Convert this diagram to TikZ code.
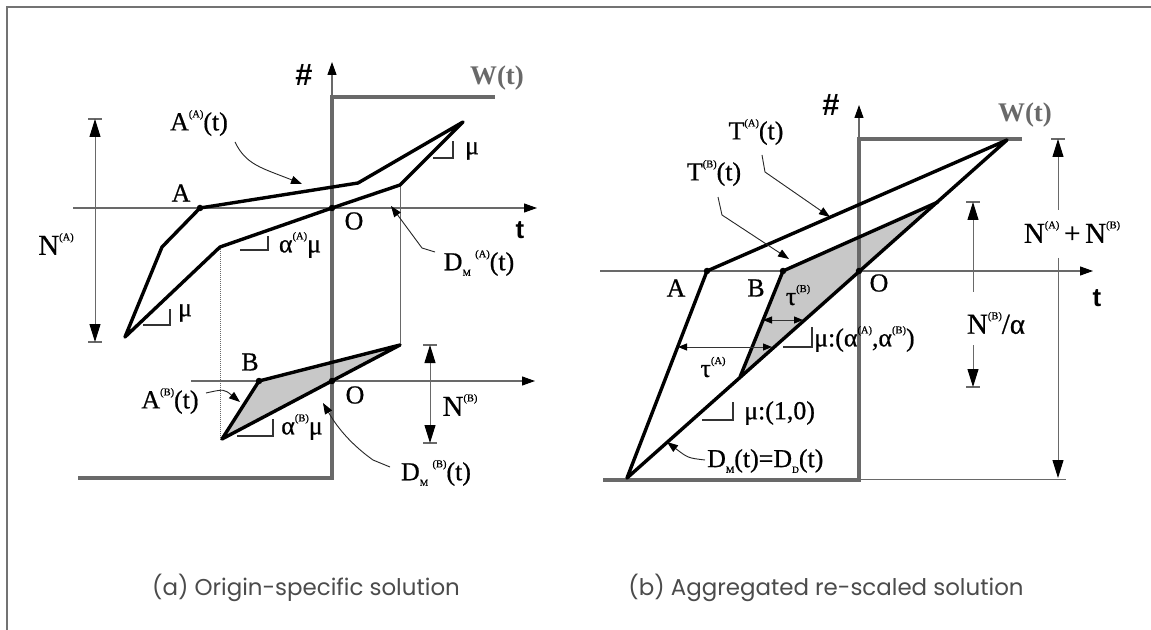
\documentclass[tikz,border=0pt]{standalone}
\usepackage{fontspec}
\setmainfont{Liberation Serif}
\newfontfamily\lblfont{Liberation Serif}[FakeBold=0.7]
\newfontfamily\capfont{Poppins}
\newfontfamily\axfont{Liberation Sans}
\usetikzlibrary{arrows.meta}
\definecolor{wgray}{RGB}{105,105,105}
\definecolor{axgray}{RGB}{105,105,105}
\definecolor{fillgray}{RGB}{200,200,200}
\definecolor{capgray}{RGB}{75,75,75}
\newcommand\supx[1]{\raisebox{0.5em}{\fontsize{10.5}{10.5}\selectfont(#1)}}
\newcommand\subx[1]{\raisebox{-0.22em}{\fontsize{9.5}{9.5}\selectfont #1}}
\tikzset{
  curve/.style={line width=3.4bp, line join=round, black},
  wline/.style={line width=3.5bp, wgray, line join=miter},
  axisline/.style={line width=1.1bp, axgray, -{Triangle[length=13bp,width=9bp,color=black]}},
  dimline/.style={line width=1bp, axgray},
  dimarrow/.style={line width=1bp, axgray, -{Triangle[length=18bp,width=11bp,color=black]}},
  dimbar/.style={line width=1.2bp, axgray},
  leader/.style={line width=0.9bp, black!85, -{Triangle[length=11bp,width=8bp,color=black]}},
  tauarr/.style={line width=1bp, black!80, {Triangle[length=9bp,width=7bp,color=black]}-{Triangle[length=9bp,width=7bp,color=black]}},
  slope/.style={line width=1.4bp, black!80},
  lbl/.style={font=\lblfont\fontsize{26}{26}\selectfont, inner sep=0pt},
  nlbl/.style={font=\lblfont\fontsize{29}{29}\selectfont, inner sep=0pt},
  axlbl/.style={font=\axfont\bfseries\fontsize{26}{26}\selectfont, inner sep=0pt},
  hashlbl/.style={font=\axfont\bfseries\fontsize{31}{31}\selectfont, inner sep=0pt},
  wlbl/.style={font=\bfseries\fontsize{27}{27}\selectfont, text=wgray, inner sep=0pt},
  caplbl/.style={font=\capfont\fontsize{23}{23}\selectfont, text=capgray, inner sep=0pt},
  dotm/.style={circle, fill=black, inner sep=0pt, minimum size=6.5bp},
  framel/.style={line width=2bp, black!55}
}
\begin{document}
\begin{tikzpicture}[x=1bp,y=-1bp]
\useasboundingbox (0,0) rectangle (1151,630);
\fill[white] (0,0) rectangle (1151,630);
% frame
\coordinate (f1) at (7,630);
\coordinate (f2) at (7,7);
\coordinate (f3) at (1151,7);
\draw[framel] (f1) -- (f2) -- (f3);

%%%%%%%%%%%%%%%% LEFT PANEL
\coordinate (LyB) at (332,478);
\coordinate (LyT) at (332,62);
\coordinate (Lx1a) at (73,208);
\coordinate (Lx1b) at (537,208);
\coordinate (Lx2a) at (191,381);
\coordinate (Lx2b) at (535,381);
\coordinate (La) at (200,208);
\coordinate (Lo) at (332,208);
\coordinate (Lp1) at (125,337);
\coordinate (Lp2) at (162,247);
\coordinate (Lp3) at (358,183);
\coordinate (Lp4) at (463,122);
\coordinate (Lp5) at (400,185);
\coordinate (Lp6) at (220,247);
\coordinate (Lq1) at (222,439);
\coordinate (Lb) at (259,381);
\coordinate (Lq2) at (400,345);
\coordinate (Lo2) at (332,381);
\coordinate (Lw1) at (78,478);
\coordinate (Lw2) at (332,478);
\coordinate (Lw3) at (332,97);
\coordinate (Lw4) at (495,97);
\coordinate (Lv1) at (400,185);
\coordinate (Lv2) at (400,345);
\coordinate (Ld1) at (220,247);
\coordinate (Ld2) at (220,439);

\draw[axisline] (Lx1a) -- (Lx1b);
\draw[axisline] (Lx2a) -- (Lx2b);
\draw[axisline] (LyB) -- (LyT);
\draw[dimline] (Lv1) -- (Lv2);
\draw[dimline, densely dotted] (Ld1) -- (Ld2);
\fill[fillgray] (Lq1) -- (Lb) -- (Lq2) -- cycle;
\draw[wline] (Lw1) -- (Lw2) -- (Lw3) -- (Lw4);
\draw[curve] (Lp1) -- (Lp2) -- (La) -- (Lp3) -- (Lp4) -- (Lp5) -- (Lo) -- (Lp6) -- cycle;
\draw[curve] (Lq1) -- (Lb) -- (Lq2) -- cycle;
\node[dotm] (dLa) at (La) {};
\node[dotm] (dLo) at (Lo) {};
\node[dotm] (dLb) at (Lb) {};
\node[dotm] (dLo2) at (Lo2) {};

% slope marks
\coordinate (s1a) at (433,158); \coordinate (s1b) at (453,158); \coordinate (s1c) at (453,141);
\draw[slope] (s1a) -- (s1b) -- (s1c);
\coordinate (s2a) at (240,250); \coordinate (s2b) at (268,250); \coordinate (s2c) at (268,236);
\draw[slope] (s2a) -- (s2b) -- (s2c);
\coordinate (s3a) at (143,325); \coordinate (s3b) at (170,325); \coordinate (s3c) at (170,309);
\draw[slope] (s3a) -- (s3b) -- (s3c);
\coordinate (s4a) at (237,436); \coordinate (s4b) at (273,436); \coordinate (s4c) at (273,419);
\draw[slope] (s4a) -- (s4b) -- (s4c);

% N(A) dimension
\coordinate (nA1) at (95,119); \coordinate (nA2) at (95,342); \coordinate (nAm) at (95,230);
\coordinate (nA1l) at (88,119); \coordinate (nA1r) at (102,119);
\coordinate (nA2l) at (88,342); \coordinate (nA2r) at (102,342);
\draw[dimbar] (nA1l) -- (nA1r);
\draw[dimbar] (nA2l) -- (nA2r);
\draw[dimarrow] (nAm) -- (nA1);
\draw[dimarrow] (nAm) -- (nA2);
% N(B) dimension
\coordinate (nB1) at (430,345); \coordinate (nB2) at (430,443); \coordinate (nBm) at (430,394);
\coordinate (nB1l) at (423,345); \coordinate (nB1r) at (437,345);
\coordinate (nB2l) at (423,443); \coordinate (nB2r) at (437,443);
\draw[dimbar] (nB1l) -- (nB1r);
\draw[dimbar] (nB2l) -- (nB2r);
\draw[dimarrow] (nBm) -- (nB1);
\draw[dimarrow] (nBm) -- (nB2);

% labels left
\node[hashlbl] (Lhash) at (304,75) {\#};
\node[wlbl] (LW) at (497,78) {W(t)};
\node[lbl] (LAA) at (199,123) {A\supx{A}(t)};
\node[lbl] (LAlab) at (181,193) {A};
\node[lbl] (LOlab) at (354,221) {O};
\node[axlbl] (Lt) at (520,230) {t};
\node[lbl] (LDMA) at (479,263) {D\subx{M}\,\supx{A}(t)};
\node[lbl] (Lmu1) at (472,151) {μ};
\node[lbl] (LaAmu) at (300,245) {α\supx{A}μ};
\node[lbl] (Lmu2) at (185,313) {μ};
\node[nlbl] (LNA) at (56,244) {N\supx{A}};
\node[lbl] (LBlab) at (250,362) {B};
\node[lbl] (LAB) at (170,401) {A\supx{B}(t)};
\node[lbl] (LO2lab) at (355,395) {O};
\node[lbl] (LaBmu) at (302,427) {α\supx{B}μ};
\node[nlbl] (LNB) at (460,405) {N\supx{B}};
\node[lbl] (LDMB) at (436,473) {D\subx{M}\,\supx{B}(t)};

% leaders left
\coordinate (l1a) at (235,142); \coordinate (l1b) at (302,184);
\draw[leader] (l1a) .. controls (246,165) and (262,168) .. (l1b);
\coordinate (l2a) at (435,252); \coordinate (l2b) at (422,248); \coordinate (l2c) at (391,206);
\draw[leader] (l2a) -- (l2b) -- (l2c);
\coordinate (l3a) at (206,393); \coordinate (l3b) at (240,402);
\draw[leader] (l3a) .. controls (224,389) .. (l3b);
\coordinate (l4a) at (390,467); \coordinate (l4b) at (373,460); \coordinate (l4c) at (323,403);
\draw[leader] (l4a) -- (l4b) .. controls (345,440) and (333,420) .. (l4c);

%%%%%%%%%%%%%%%% RIGHT PANEL
\coordinate (RyB) at (859,480);
\coordinate (RyT) at (859,105);
\coordinate (Rxa) at (600,271);
\coordinate (Rxb) at (1093,271);
\coordinate (Ra) at (707,271);
\coordinate (Rb) at (783,271);
\coordinate (Ro) at (859,271);
\coordinate (Rtop) at (1007,140);
\coordinate (Rbot) at (627,478);
\coordinate (Rq) at (938,202);
\coordinate (Rr) at (740,377);
\coordinate (Rw1) at (603,480);
\coordinate (Rw2) at (859,480);
\coordinate (Rw3) at (859,139);
\coordinate (Rw4) at (1022,139);
\coordinate (Rh1) at (859,479);
\coordinate (Rh2) at (1066,479);

\draw[axisline] (Rxa) -- (Rxb);
\draw[axisline] (RyB) -- (RyT);
\draw[dimline] (Rh1) -- (Rh2);
\fill[fillgray] (Rb) -- (Rq) -- (Rr) -- cycle;
\draw[wline] (Rw1) -- (Rw2) -- (Rw3) -- (Rw4);
\draw[curve] (Rbot) -- (Ra) -- (Rtop) -- cycle;
\draw[curve] (Rr) -- (Rb) -- (Rq);
\node[dotm] (dRa) at (Ra) {};
\node[dotm] (dRb) at (Rb) {};
\node[dotm] (dRo) at (Ro) {};

% tau arrows
\coordinate (tb1) at (763,320); \coordinate (tb2) at (803,320);
\draw[tauarr] (tb1) -- (tb2);
\coordinate (ta1) at (678,347); \coordinate (ta2) at (772,347);
\draw[tauarr] (ta1) -- (ta2);

% slope marks right
\coordinate (r1a) at (783,347); \coordinate (r1b) at (812,347); \coordinate (r1c) at (812,327);
\draw[slope] (r1a) -- (r1b) -- (r1c);
\coordinate (r2a) at (702,420); \coordinate (r2b) at (733,420); \coordinate (r2c) at (733,402);
\draw[slope] (r2a) -- (r2b) -- (r2c);

% N(A)+N(B) dimension
\coordinate (nC1) at (1058,139); \coordinate (nC1m) at (1058,210);
\coordinate (nC2m) at (1058,258); \coordinate (nC2) at (1058,478);
\coordinate (nC1l) at (1051,139); \coordinate (nC1r) at (1065,139);
\draw[dimbar] (nC1l) -- (nC1r);
\draw[dimarrow] (nC1m) -- (nC1);
\draw[dimarrow] (nC2m) -- (nC2);
% N(B)/alpha dimension
\coordinate (nD1) at (973,202); \coordinate (nD1m) at (973,292);
\coordinate (nD2m) at (973,345); \coordinate (nD2) at (973,387);
\coordinate (nD1l) at (966,202); \coordinate (nD1r) at (980,202);
\coordinate (nD2l) at (966,387); \coordinate (nD2r) at (980,387);
\draw[dimbar] (nD1l) -- (nD1r);
\draw[dimbar] (nD2l) -- (nD2r);
\draw[dimarrow] (nD1m) -- (nD1);
\draw[dimarrow] (nD2m) -- (nD2);

% labels right
\node[hashlbl] (Rhash) at (831,105) {\#};
\node[wlbl] (RW) at (1025,115) {W(t)};
\node[lbl] (RTA) at (756,132) {T\supx{A}(t)};
\node[lbl] (RTB) at (714,173) {T\supx{B}(t)};
\node[lbl] (RAlab) at (676,288) {A};
\node[lbl] (RBlab) at (756,288) {B};
\node[lbl] (ROlab) at (879,283) {O};
\node[axlbl] (Rt) at (1097,298) {t};
\node[lbl] (Rtaub) at (798,295) {τ\supx{B}};
\node[lbl] (Rtaua) at (713,367) {τ\supx{A}};
\node[lbl, anchor=west] (Rmuab) at (814,339) {μ:(α\supx{A},α\supx{B})};
\node[lbl, anchor=west] (Rmu10) at (744,413) {μ:(1,0)};
\node[lbl, anchor=west] (RDM) at (707,461) {D\subx{M}(t)=D\subx{D}(t)};
\node[nlbl] (RNAB) at (1072,232) {N\supx{A}\,+\,N\supx{B}};
\node[nlbl] (RNBa) at (996,323) {N\supx{B}/α};

% leaders right
\coordinate (m1a) at (762,155); \coordinate (m1b) at (765,172); \coordinate (m1c) at (830,217);
\draw[leader] (m1a) -- (m1b) -- (m1c);
\coordinate (m2a) at (718,197); \coordinate (m2b) at (722,215); \coordinate (m2c) at (789,259);
\draw[leader] (m2a) -- (m2b) -- (m2c);
\coordinate (m3a) at (705,460); \coordinate (m3b) at (667,442);
\draw[leader] (m3a) .. controls (688,458) .. (m3b);

% captions
\node[caplbl] (capA) at (306,588) {(a) Origin-specific solution};
\node[caplbl] (capB) at (826,588) {(b) Aggregated re-scaled solution};
\end{tikzpicture}
\end{document}
